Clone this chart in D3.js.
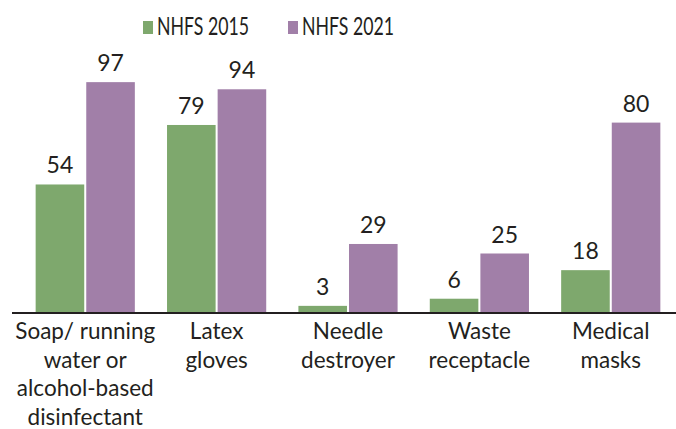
<!DOCTYPE html>
<html>
<head>
<meta charset="utf-8">
<script src="https://cdn.jsdelivr.net/npm/d3@7"></script>
<style>
  body { margin: 0; background: #fff; }
  svg text { font-family: "Lato", "Open Sans", sans-serif; fill: #231f20; }
</style>
</head>
<body>
<div id="chart"></div>
<script>
const categories = [
  ["Soap/ running", "water or", "alcohol-based", "disinfectant"],
  ["Latex", "gloves"],
  ["Needle", "destroyer"],
  ["Waste", "receptacle"],
  ["Medical", "masks"]
];
const seriesNames = ["NHFS 2015", "NHFS 2021"];
const nhfs2015 = [54, 79, 3, 6, 18];
const nhfs2021 = [97, 94, 29, 25, 80];
const colors = ["#7ea86d", "#a17fa8"];

const W = 676, H = 429;
const baseY = 313;

const svg = d3.select("#chart").append("svg")
  .attr("width", W).attr("height", H);

const x0 = d3.scaleBand()
  .domain(d3.range(categories.length))
  .range([12, 684])
  .paddingInner(0.245)
  .paddingOuter(0.18);

const x1 = d3.scaleBand()
  .domain(d3.range(seriesNames.length))
  .range([0, x0.bandwidth()])
  .paddingInner(0.04);

const y = d3.scaleLinear().domain([0, 100]).range([baseY, baseY - 238]);

const rows = categories.map((c, i) => ({ i, vals: [nhfs2015[i], nhfs2021[i]] }));

const g = svg.selectAll("g.grp").data(rows).enter().append("g")
  .attr("class", "grp")
  .attr("transform", d => "translate(" + x0(d.i) + ",0)");

g.selectAll("rect")
  .data(d => d.vals.map((v, s) => ({ v, s })))
  .enter().append("rect")
  .attr("x", d => x1(d.s))
  .attr("y", d => y(d.v))
  .attr("width", x1.bandwidth())
  .attr("height", d => y(0) - y(d.v))
  .attr("fill", d => colors[d.s]);

g.selectAll("text.val")
  .data(d => d.vals.map((v, s) => ({ v, s })))
  .enter().append("text")
  .attr("class", "val")
  .attr("x", d => x1(d.s) + x1.bandwidth() / 2)
  .attr("y", d => y(d.v) - 11)
  .attr("text-anchor", "middle")
  .style("font-size", "23px")
  .text(d => d.v);

// baseline
svg.append("line")
  .attr("x1", 12).attr("x2", W)
  .attr("y1", baseY).attr("y2", baseY)
  .attr("stroke", "#231f20").attr("stroke-width", 2);

// category labels
svg.selectAll("text.cat").data(categories).enter().append("text")
  .attr("class", "cat")
  .attr("x", (d, i) => x0(i) + x0.bandwidth() / 2)
  .attr("y", 339)
  .attr("text-anchor", "middle")
  .style("font-size", "22.5px")
  .selectAll("tspan").data(d => d).enter().append("tspan")
  .attr("x", function () { return this.parentNode.getAttribute("x"); })
  .attr("dy", (d, j) => j === 0 ? 0 : 28.5)
  .text(d => d);

// legend
const legX = [143, 288];
const leg = svg.selectAll("g.leg").data(seriesNames).enter().append("g")
  .attr("class", "leg")
  .attr("transform", (d, i) => "translate(" + legX[i] + ",0)");
leg.append("rect")
  .attr("x", 0).attr("y", 21).attr("width", 10).attr("height", 13)
  .attr("fill", (d, i) => colors[i]);
leg.append("text")
  .attr("x", 14).attr("y", 35)
  .style("font-size", "25px")
  .attr("textLength", 92)
  .attr("lengthAdjust", "spacingAndGlyphs")
  .text(d => d);
</script>
</body>
</html>
